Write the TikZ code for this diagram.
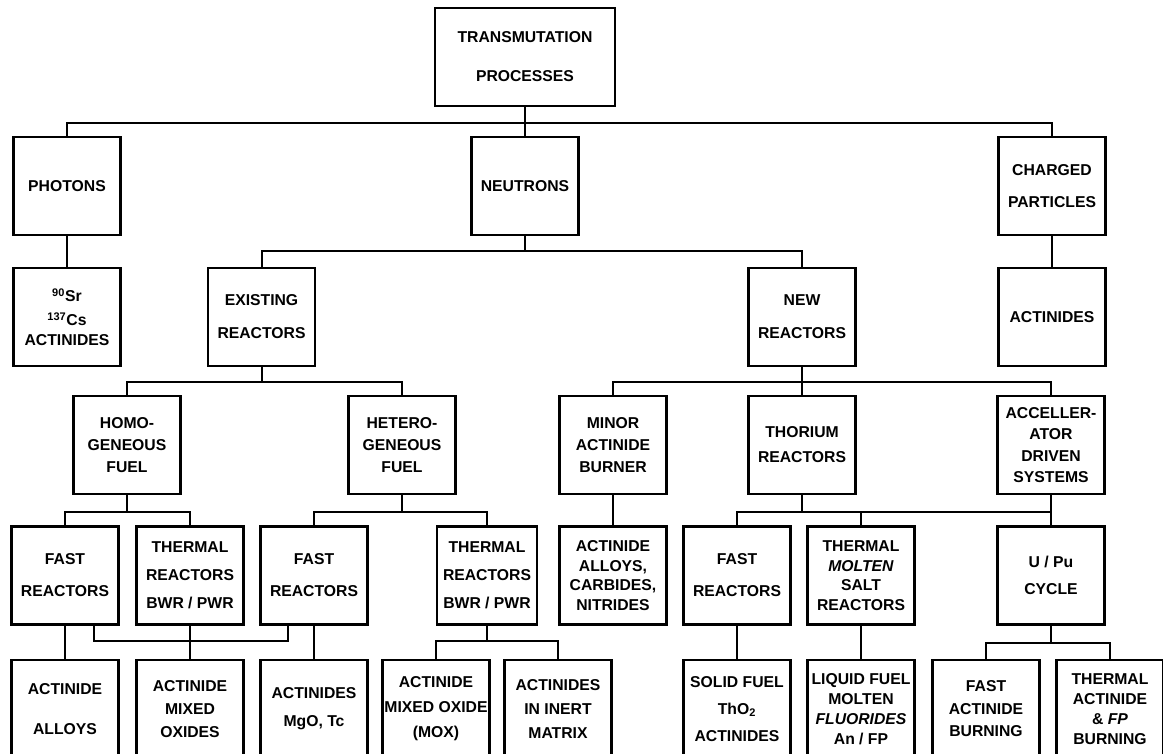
\documentclass[tikz,border=0pt]{standalone}
\usepackage{fontspec}
\setmainfont{Liberation Sans}
\usetikzlibrary{calc}
\tikzset{
  box/.style={draw, line width=2pt, align=center, inner sep=1pt,
    minimum width=80.25pt, minimum height=73.5pt,
    font=\bfseries\fontsize{11.8}{14.6}\selectfont},
  link/.style={line width=1.5pt},
}
\begin{document}
\begin{tikzpicture}[x=0.75pt,y=-0.75pt]
	\useasboundingbox (0,0) rectangle (1163,753);
	\clip (0,0) rectangle (1163,753);
	% top level
	\node[box, minimum width=135pt] (trans) at (525,57) {TRANSMUTATION\\[14.6pt]PROCESSES};
	% first level
	\node[box] (photons) at (67,186) {PHOTONS};
	\node[box] (neutrons) at (525,186) {NEUTRONS};
	\node[box] (charged) at (1052,186) {CHARGED\\[9.4pt]PARTICLES};
	% second level
	\begin{scope}[every node/.append style={minimum height=75pt}]
		\node[box] (sr) at (67,317) {\textsuperscript{90}Sr\\[3.4pt]\textsuperscript{137}Cs\\ACTINIDES};
		\node[box] (existing) at (261.5,317) {EXISTING\\[10.1pt]REACTORS};
		\node[box] (new) at (802,317) {NEW\\[10.1pt]REACTORS};
		\node[box] (actin) at (1052,317) {ACTINIDES};
	\end{scope}
	% third level
	\begin{scope}[every node/.append style={minimum height=72pt}]
		\node[box] (homo) at (127,445) {HOMO-\\[1.9pt]GENEOUS\\[1.9pt]FUEL};
		\node[box] (hetero) at (402,445) {HETERO-\\[1.9pt]GENEOUS\\[1.9pt]FUEL};
		\node[box] (minor) at (613,445) {MINOR\\[1.9pt]ACTINIDE\\[1.9pt]BURNER};
		\node[box] (thorium) at (802,445) {THORIUM\\[4.1pt]REACTORS};
		\node[box] (ads) at (1051,445) {ACCELLER-\\[1.5pt]ATOR\\[1.5pt]DRIVEN\\[1.5pt]SYSTEMS};
	\end{scope}
	% fourth level
	\begin{scope}[every node/.append style={minimum height=74.25pt}]
		\node[box] (fastA) at (65,575.5) {FAST\\[9.4pt]REACTORS};
		\node[box] (thermA) at (190,575.5) {THERMAL\\[6.4pt]REACTORS\\[6.4pt]BWR / PWR};
		\node[box] (fastB) at (314,575.5) {FAST\\[9.4pt]REACTORS};
		\node[box, minimum width=75pt] (thermB) at (487,575.5) {THERMAL\\[6.4pt]REACTORS\\[6.4pt]BWR / PWR};
		\node[box] (alloysC) at (613,575.5) {ACTINIDE\\ALLOYS,\\CARBIDES,\\NITRIDES};
		\node[box] (fastC) at (737,575.5) {FAST\\[9.4pt]REACTORS};
		\node[box] (moltenC) at (861,575.5) {THERMAL\\\textit{MOLTEN}\\SALT\\REACTORS};
		\node[box] (upu) at (1051,575.5) {U / Pu\\[5.6pt]CYCLE};
	\end{scope}
	% bottom level
	\begin{scope}[every node/.append style={minimum height=78pt}]
		\node[box] (alloysA) at (65,709) {ACTINIDE\\[15.4pt]ALLOYS};
		\node[box] (mixedA) at (190,709) {ACTINIDE\\[2.6pt]MIXED\\[2.6pt]OXIDES};
		\node[box] (mgoB) at (314,709) {ACTINIDES\\[6.4pt]MgO, Tc};
		\node[box] (moxB) at (436,709) {ACTINIDE\\[4.1pt]MIXED OXIDE\\[4.1pt](MOX)};
		\node[box] (inertB) at (558,709) {ACTINIDES\\[3.4pt]IN INERT\\[3.4pt]MATRIX};
		\node[box] (solid) at (737,709) {SOLID FUEL\\[5.6pt]ThO\textsubscript{2}\\[5.6pt]ACTINIDES};
		\node[box] (liquid) at (861,709) {LIQUID FUEL\\[0.4pt]MOLTEN\\[0.4pt]\textit{FLUORIDES}\\[0.4pt]An / FP};
		\node[box] (fastburn) at (986,709) {FAST\\[2.3pt]ACTINIDE\\[2.3pt]BURNING};
		\node[box] (thermburn) at (1110,709) {THERMAL\\[0.4pt]ACTINIDE\\[0.4pt]\& \textit{FP}\\[0.4pt]BURNING};
	\end{scope}
	% branching connectors
	\foreach \p/\c/\g in {trans/photons/16, trans/neutrons/16, trans/charged/16,
		neutrons/existing/15, neutrons/new/15,
		existing/homo/15, existing/hetero/15,
		new/minor/15, new/thorium/15, new/ads/15,
		homo/fastA/17, homo/thermA/17, hetero/fastB/17, hetero/thermB/17,
		thorium/fastC/17, thorium/moltenC/17, thorium/upu/17,
		thermB/moxB/15, thermB/inertB/15,
		upu/fastburn/17, upu/thermburn/17}{
		\draw[link] (\p.south) -- ++(0,\g) -| (\c.north);
	}
	% straight connectors
	\foreach \p/\c in {photons/sr, charged/actin, minor/alloysC, ads/upu,
		fastA/alloysA, thermA/mixedA, fastB/mgoB, fastC/solid, moltenC/liquid}{
		\draw[link] (\p.south) -- (\c.north);
	}
	% fast reactors loop
	\draw[link] ($(fastA.south)+(29,0)$) -- ++(0,15) -| ($(fastB.south)+(-26,0)$);
\end{tikzpicture}
\end{document}
